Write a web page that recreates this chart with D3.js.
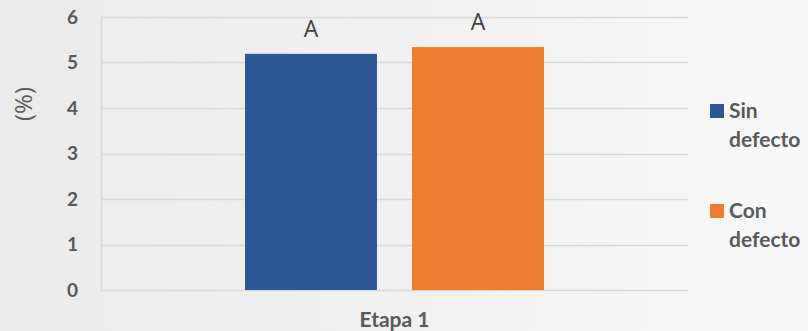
<!DOCTYPE html>
<html>
<head>
<meta charset="utf-8">
<script src="https://cdn.jsdelivr.net/npm/d3@7"></script>
<style>
  html, body { margin: 0; padding: 0; }
  body { width: 808px; height: 331px; overflow: hidden; }
  svg { display: block; }
</style>
</head>
<body>
<div id="root"></div>
<script>
const width = 808;
const height = 331;

// data
const categories = ['Etapa 1'];
const seriesNames = ['Sin defecto', 'Con defecto'];
const seriesValues = [5.19, 5.34];
const seriesLetters = ['A', 'A'];
const seriesColors = ['#2e5594', '#ed7d31'];
const yTicks = [0, 1, 2, 3, 4, 5, 6];

const margin = {top: 17, right: 120, bottom: 41, left: 101};
const plotW = 688 - margin.left;
const plotH = 290 - margin.top;

const svg = d3.select('#root')
    .append('svg')
    .attr('width', width)
    .attr('height', height)
    .style('font-family', 'Lato, "Open Sans", sans-serif');

// soft background
const defs = svg.append('defs');
const grad = defs.append('linearGradient')
    .attr('id', 'bg')
    .attr('x1', '0%').attr('y1', '0%')
    .attr('x2', '100%').attr('y2', '0%');
grad.append('stop').attr('offset', '0%').attr('stop-color', '#eaeaea');
grad.append('stop').attr('offset', '100%').attr('stop-color', '#f8f8f8');
svg.append('rect')
    .attr('width', width)
    .attr('height', height)
    .attr('fill', 'url(#bg)');

const g = svg.append('g')
    .attr('transform', `translate(${margin.left},${margin.top})`);

const y = d3.scaleLinear()
    .domain([0, 6])
    .range([plotH, 0]);

const x0 = d3.scaleBand()
    .domain(categories)
    .range([0, plotW]);

const x1 = d3.scaleBand()
    .domain(seriesNames)
    .range([x0.bandwidth() * 0.2453, x0.bandwidth() * 0.7547])
    .paddingInner(0.21);

// gridlines
g.append('g')
    .selectAll('line')
    .data(yTicks)
    .join('line')
    .attr('x1', 0)
    .attr('x2', plotW)
    .attr('y1', d => Math.round(y(d)) + 0.5)
    .attr('y2', d => Math.round(y(d)) + 0.5)
    .attr('stroke', '#d9d9d9')
    .attr('stroke-width', 1.4);

// left axis line
g.append('line')
    .attr('x1', 0.5).attr('x2', 0.5)
    .attr('y1', y(6)).attr('y2', y(0))
    .attr('stroke', '#d9d9d9')
    .attr('stroke-width', 1.4);

// y tick labels
const yAxis = g.append('g')
    .call(d3.axisLeft(y).tickValues(yTicks).tickSize(0).tickPadding(23).tickFormat(d3.format('d')));
yAxis.select('.domain').remove();
yAxis.selectAll('text')
    .attr('fill', '#595959')
    .style('font-size', '19px')
    .style('font-weight', 'bold')
    .style('font-family', 'Lato, "Open Sans", sans-serif');

// bars
const bars = g.append('g')
    .selectAll('g')
    .data(categories)
    .join('g')
    .attr('transform', d => `translate(${x0(d)},0)`);

const rows = seriesNames.map((s, i) => ({name: s, value: seriesValues[i], letter: seriesLetters[i], color: seriesColors[i]}));

bars.selectAll('rect')
    .data(rows)
    .join('rect')
    .attr('x', d => x1(d.name))
    .attr('width', x1.bandwidth())
    .attr('y', d => y(d.value))
    .attr('height', d => y(0) - y(d.value))
    .attr('fill', d => d.color);

bars.selectAll('text')
    .data(rows)
    .join('text')
    .attr('x', d => x1(d.name) + x1.bandwidth() / 2)
    .attr('y', d => y(d.value) - 17)
    .attr('text-anchor', 'middle')
    .attr('fill', '#404040')
    .style('font-size', '23px')
    .style('font-family', '"Open Sans", sans-serif')
    .text(d => d.letter);

// x category label
g.append('g')
    .selectAll('text')
    .data(categories)
    .join('text')
    .attr('x', d => x0(d) + x0.bandwidth() / 2)
    .attr('y', plotH + 37)
    .attr('text-anchor', 'middle')
    .attr('fill', '#595959')
    .style('font-size', '21px')
    .style('font-weight', 'bold')
    .text(d => d);

// y axis title
svg.append('text')
    .attr('transform', 'translate(32,104) rotate(-90)')
    .attr('text-anchor', 'middle')
    .attr('fill', '#595959')
    .style('font-size', '24px')
    .style('font-family', '"Open Sans", sans-serif')
    .text('(%)');

// legend
const legend = svg.append('g')
    .selectAll('g')
    .data(rows)
    .join('g')
    .attr('transform', (d, i) => `translate(710,${104 + i * 100})`);

legend.append('rect')
    .attr('width', 14)
    .attr('height', 14)
    .attr('fill', d => d.color);

legend.append('text')
    .attr('fill', '#595959')
    .style('font-size', '21px')
    .style('font-weight', 'bold')
    .selectAll('tspan')
    .data(d => d.name.split(' '))
    .join('tspan')
    .attr('x', 19)
    .attr('y', (d, i) => 14 + i * 29)
    .text(d => d);
</script>
</body>
</html>
